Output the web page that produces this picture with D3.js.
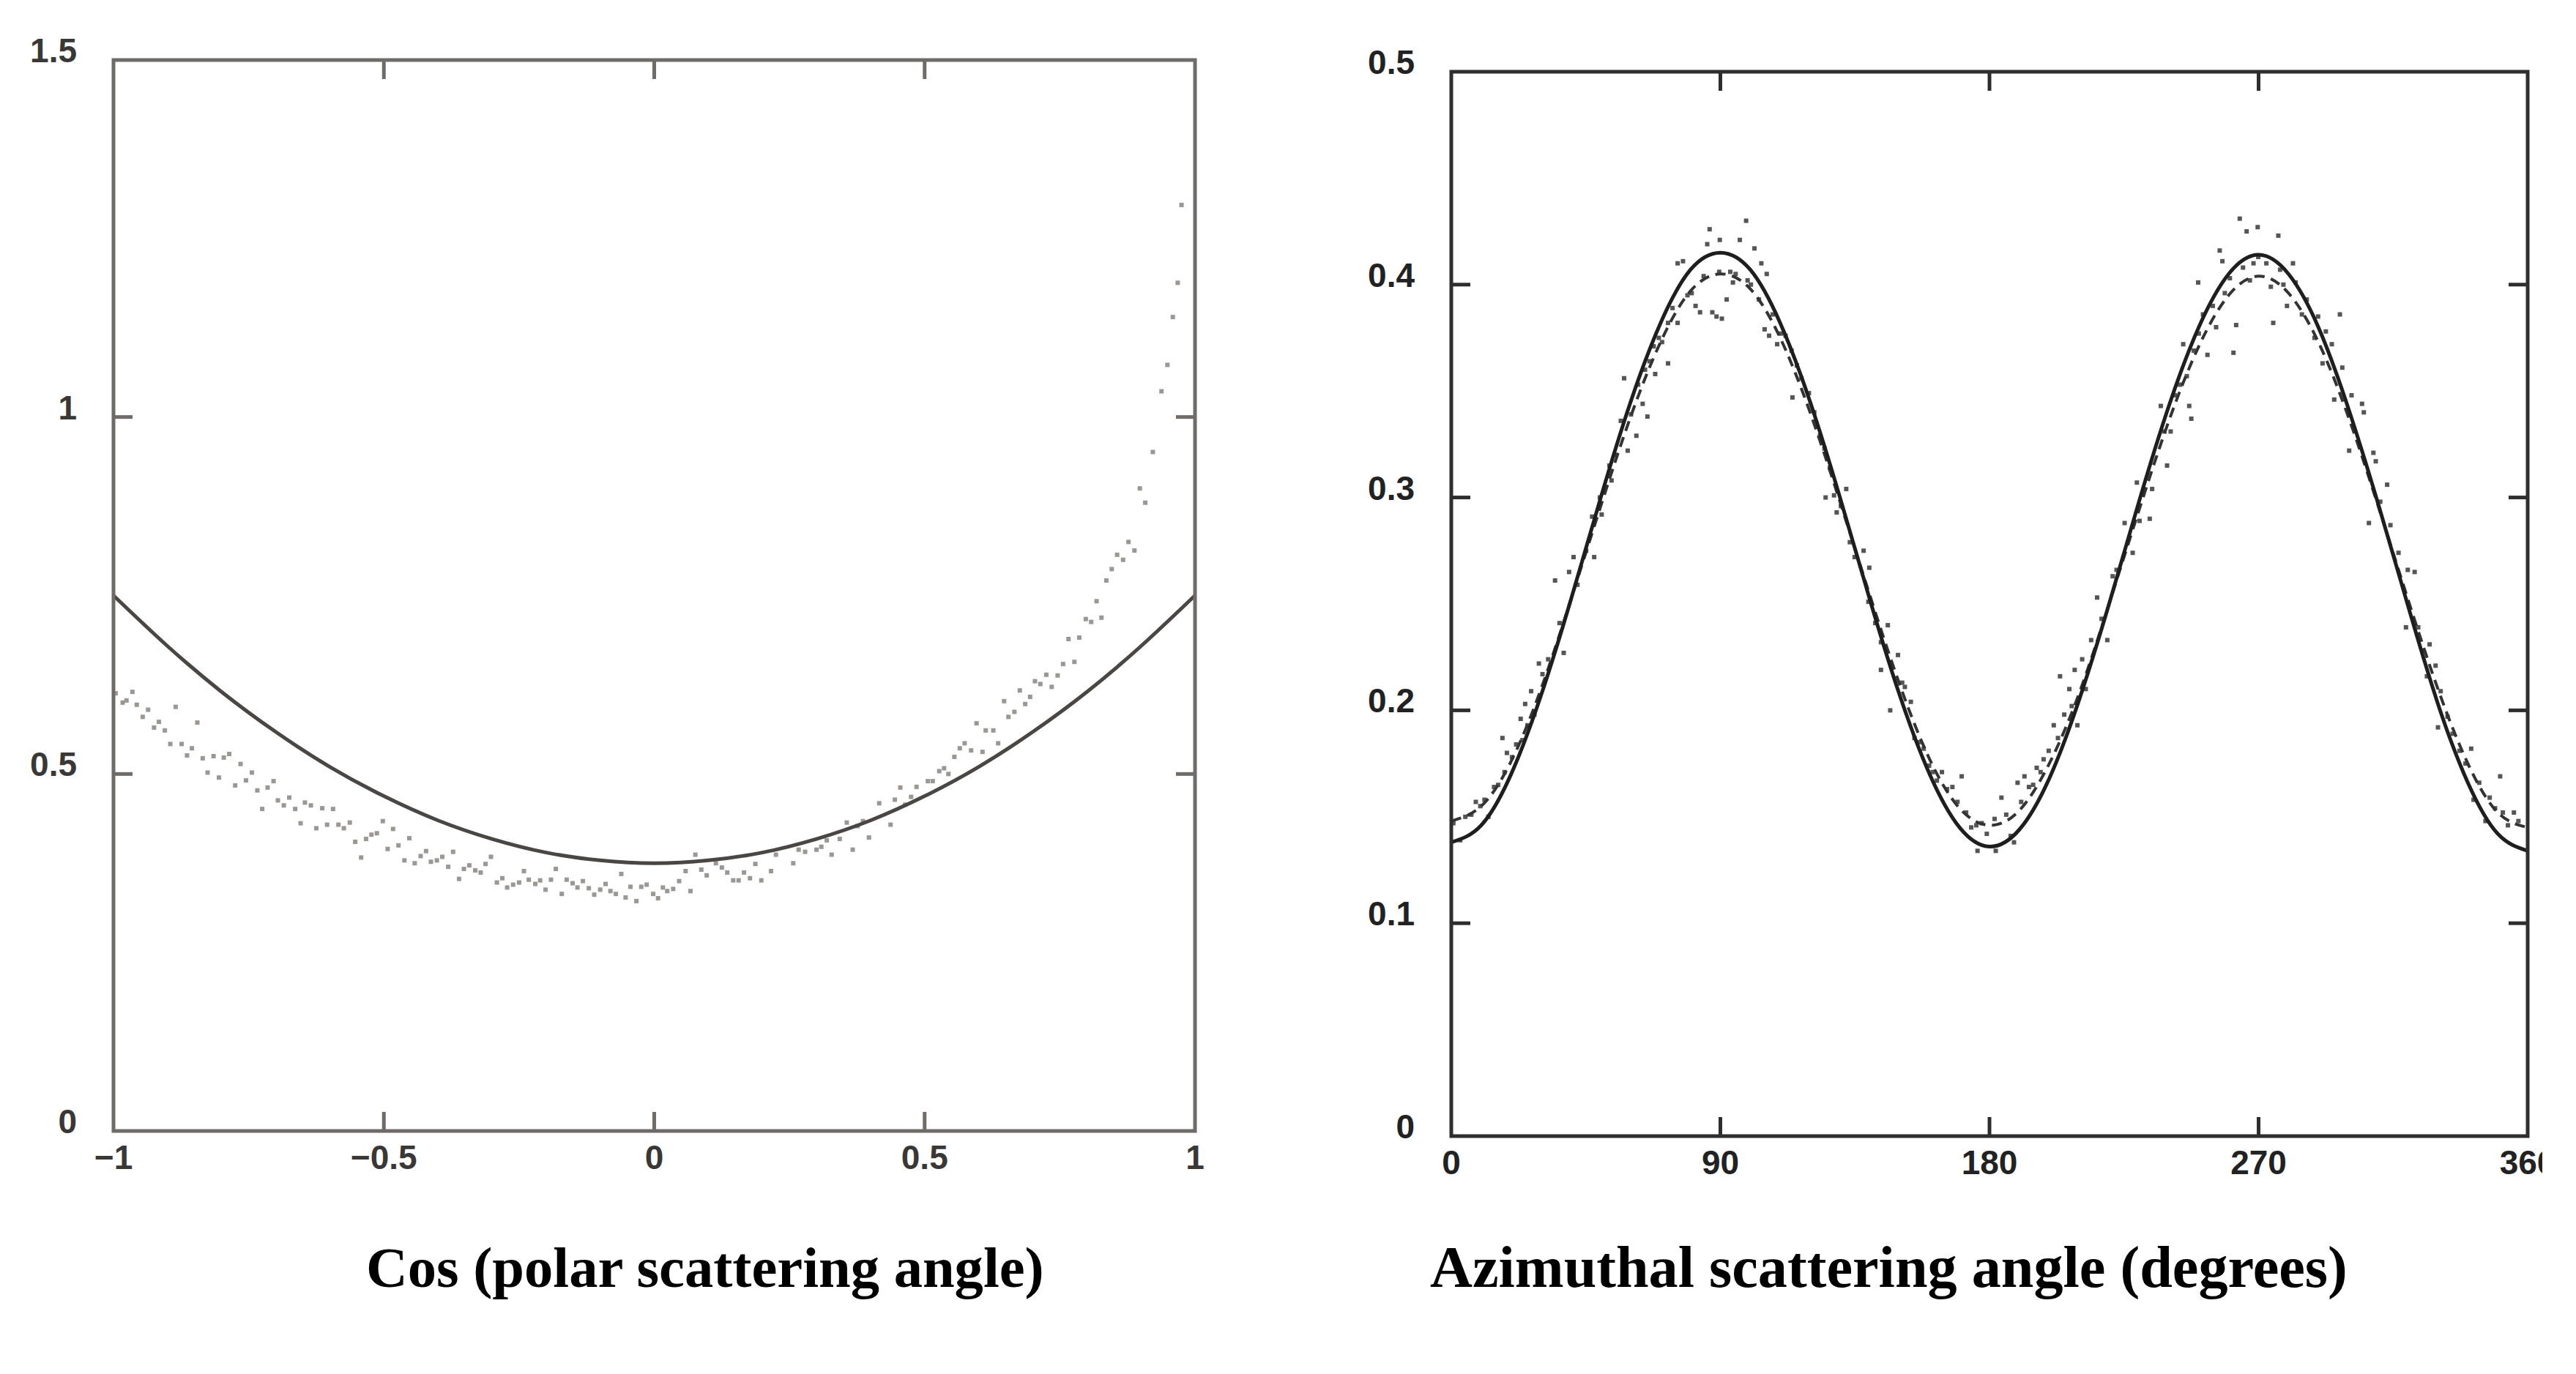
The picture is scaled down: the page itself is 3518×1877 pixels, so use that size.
<!DOCTYPE html>
<html>
<head>
<meta charset="utf-8">
<script src="https://cdn.jsdelivr.net/npm/d3@7"></script>
<style>
  body { margin: 0; background: #fff; }
</style>
</head>
<body>
<div id="chart"></div>
<script>
const W = 3518, H = 1877;

// ---- left panel: cos(polar scattering angle) ----
const polarTicksX = [-1, -0.5, 0, 0.5, 1];
const polarTickLabelsX = ["\u22121", "\u22120.5", "0", "0.5", "1"];
const polarTicksY = [0, 0.5, 1, 1.5];
const polarTickLabelsY = ["0", "0.5", "1", "1.5"];

const polarFitX = [-1, -0.9, -0.8, -0.7, -0.6, -0.5, -0.4, -0.3, -0.2, -0.1, 0,
                   0.1, 0.2, 0.3, 0.4, 0.5, 0.6, 0.7, 0.8, 0.9, 1];
const polarFitY = [0.750, 0.679, 0.615, 0.559, 0.510, 0.469, 0.435, 0.409, 0.390, 0.379, 0.375,
                   0.379, 0.390, 0.409, 0.435, 0.469, 0.510, 0.559, 0.615, 0.679, 0.750];

const polarDots = [
  [-0.996,.613],[-0.983,.600],[-0.976,.603],[-0.965,.615],[-0.957,.597],[-0.946,.580],[-0.936,.590],
  [-0.925,.565],[-0.916,.573],[-0.905,.561],[-0.895,.542],[-0.885,.594],[-0.874,.542],[-0.864,.526],
  [-0.855,.536],[-0.845,.572],[-0.835,.522],[-0.826,.502],[-0.815,.525],[-0.805,.495],[-0.796,.523],
  [-0.786,.528],[-0.775,.484],[-0.765,.514],[-0.755,.491],[-0.744,.502],[-0.734,.477],[-0.725,.451],
  [-0.715,.481],[-0.704,.490],[-0.696,.463],[-0.685,.456],[-0.675,.467],[-0.664,.451],[-0.654,.431],
  [-0.646,.460],[-0.635,.456],[-0.625,.424],[-0.614,.452],[-0.605,.429],[-0.594,.451],[-0.584,.429],
  [-0.574,.424],[-0.563,.432],[-0.553,.405],[-0.542,.383],[-0.533,.409],[-0.523,.415],[-0.513,.417],
  [-0.502,.434],[-0.493,.395],[-0.483,.423],[-0.473,.400],[-0.462,.379],[-0.453,.410],[-0.443,.375],
  [-0.432,.385],[-0.422,.392],[-0.413,.377],[-0.402,.379],[-0.392,.384],[-0.381,.370],[-0.372,.391],
  [-0.361,.353],[-0.352,.367],[-0.342,.372],[-0.331,.365],[-0.321,.362],[-0.312,.374],[-0.302,.384],
  [-0.291,.348],[-0.281,.354],[-0.272,.341],[-0.261,.345],[-0.250,.348],[-0.241,.364],[-0.232,.352],
  [-0.220,.346],[-0.211,.351],[-0.201,.338],[-0.191,.352],[-0.182,.367],[-0.171,.332],[-0.162,.352],
  [-0.151,.347],[-0.142,.341],[-0.132,.350],[-0.121,.340],[-0.111,.331],[-0.100,.338],[-0.090,.346],
  [-0.081,.336],[-0.071,.332],[-0.061,.360],
  [-0.053,.327],[-0.044,.342],[-0.033,.322],[-0.024,.342],[-0.014,.345],[-0.002,.332],[0.007,.326],
  [0.016,.341],[0.024,.336],[0.035,.339],[0.046,.350],[0.058,.364],[0.067,.336],[0.076,.387],
  [0.087,.366],[0.097,.358],[0.114,.375],[0.125,.369],[0.135,.362],[0.146,.351],[0.156,.351],
  [0.166,.362],[0.177,.354],[0.187,.374],[0.198,.351],[0.216,.364],[0.225,.387],[0.257,.375],
  [0.267,.394],[0.279,.391],[0.300,.394],[0.309,.398],[0.319,.407],[0.328,.387],[0.343,.409],
  [0.356,.432],[0.367,.394],[0.376,.427],[0.386,.434],[0.397,.411],[0.416,.459],[0.437,.429],
  [0.445,.464],[0.455,.481],[0.464,.457],[0.475,.468],[0.485,.482],[0.506,.490],[0.515,.490],
  [0.527,.504],[0.536,.508],[0.544,.500],[0.555,.524],[0.565,.536],[0.574,.543],[0.586,.533],
  [0.596,.571],[0.607,.531],[0.613,.561],[0.627,.561],[0.636,.543],[0.647,.602],[0.655,.580],
  [0.666,.587],[0.676,.617],[0.686,.598],[0.695,.608],[0.704,.630],[0.714,.626],[0.725,.639],
  [0.735,.622],[0.746,.638],[0.756,.654],[0.766,.689],[0.777,.657],[0.786,.691],[0.798,.717],
  [0.808,.713],[0.818,.742],[0.827,.719],[0.836,.771],[0.846,.787],[0.856,.807],[0.867,.800],
  [0.877,.825],[0.888,.813],[0.898,.900],[0.908,.880],[0.922,.951],[0.938,1.036],[0.949,1.073],
  [0.959,1.140],[0.968,1.188],[0.975,1.297]
];

// ---- right panel: azimuthal scattering angle ----
const aziTicksX = [0, 90, 180, 270, 360];
const aziTickLabelsX = ["0", "90", "180", "270", "360"];
const aziTicksY = [0, 0.1, 0.2, 0.3, 0.4, 0.5];
const aziTickLabelsY = ["0", "0.1", "0.2", "0.3", "0.4", "0.5"];

const aziFitX = [0, 10, 20, 30, 40, 50, 60, 70, 80, 90, 100, 110, 120, 130, 140, 150, 160, 170, 180,
                 190, 200, 210, 220, 230, 240, 250, 260, 270, 280, 290, 300, 310, 320, 330, 340, 350, 360];
const aziSolid = [0.138, 0.146, 0.170, 0.207, 0.252, 0.300, 0.345, 0.382, 0.407, 0.415,
                  0.407, 0.382, 0.345, 0.300, 0.252, 0.207, 0.170, 0.145, 0.136,
                  0.144, 0.168, 0.205, 0.250, 0.298, 0.343, 0.380, 0.405, 0.414,
                  0.405, 0.380, 0.342, 0.297, 0.249, 0.203, 0.166, 0.142, 0.134];
const aziDashed = [0.148, 0.155, 0.176, 0.210, 0.252, 0.296, 0.338, 0.373, 0.397, 0.405,
                   0.398, 0.375, 0.340, 0.298, 0.254, 0.212, 0.177, 0.154, 0.146,
                   0.153, 0.175, 0.208, 0.250, 0.294, 0.336, 0.371, 0.395, 0.404,
                   0.396, 0.373, 0.338, 0.296, 0.252, 0.210, 0.175, 0.152, 0.145];

const aziDots = [
  [0.7,.147],[3.0,.139],[4.7,.150],[6.7,.151],[8.2,.157],[9.7,.155],[11.1,.158],[12.4,.150],
  [14.3,.164],[15.7,.165],[17.1,.187],[17.8,.171],[18.6,.180],[20.3,.178],[21.7,.184],[23.2,.196],
  [23.8,.186],[24.7,.203],[25.5,.193],[26.7,.209],[27.8,.198],[29.3,.222],[30.5,.217],[32.4,.224],
  [34.7,.261],[36.2,.241],[37.6,.227],[39.4,.265],[40.9,.272],[42.2,.259],[45.1,.275],[47.8,.272],
  [47.1,.291],[49.7,.300],[50.3,.292],[52.9,.315],[53.6,.308],[55.0,.320],[56.7,.336],[57.8,.356],
  [59.0,.322],[60.1,.339],[61.9,.329],[62.5,.353],[64.0,.344],[65.6,.338],[64.8,.360],[66.3,.364],
  [68.2,.358],[67.7,.371],[69.4,.375],[70.5,.373],[72.5,.363],[72.5,.382],[74.0,.389],[75.7,.382],
  [75.7,.410],[77.5,.411],[79.0,.395],[80.4,.396],[81.7,.390],[83.2,.387],[84.4,.404],[85.6,.419],
  [86.4,.426],[87.3,.387],[88.7,.385],[89.6,.406],[89.8,.421],[90.5,.384],[92.1,.393],[93.3,.406],
  [94.2,.401],[95.1,.405],[96.5,.421],[98.6,.430],[99.1,.402],[100.2,.400],[101.4,.417],[102.9,.393],
  [103.7,.410],[104.8,.379],[105.5,.405],[106.3,.376],[107.5,.386],[109.0,.372],[110.2,.377],
  [111.8,.376],[113.8,.369],[114.1,.347],[115.6,.362],[117.1,.356],[119.6,.349],[121.4,.340],
  [123.3,.329],[124.8,.323],[125.2,.300],[126.6,.314],[128.0,.301],[128.9,.293],[130.3,.296],
  [132.1,.304],[133.3,.279],[134.9,.272],[137.9,.275],[139.8,.267],[139.5,.251],[141.8,.241],
  [143.7,.232],[146.0,.240],[143.7,.219],[146.8,.200],[149.4,.226],[150.8,.213],[151.7,.211],
  [153.7,.204],[154.9,.187],[156.4,.185],[158.0,.182],[159.8,.174],[161.0,.171],[162.4,.167],
  [164.1,.171],[165.8,.163],[167.6,.164],[169.3,.157],[170.7,.169],[172.2,.152],[173.9,.145],
  [175.6,.146],[177.4,.147],[176.0,.134],[179.1,.142],
  [181.7,.149],[182.1,.134],[184.0,.159],[185.6,.151],[187.1,.141],[188.2,.138],[189.4,.166],
  [190.6,.157],[191.7,.169],[193.2,.164],[194.6,.165],[195.8,.173],[197.1,.171],[198.1,.177],
  [199.8,.181],[201.5,.193],[202.9,.187],[203.6,.216],[205.0,.198],[206.7,.210],[207.5,.202],
  [208.5,.219],[209.4,.193],[211.0,.224],[212.2,.210],[214.0,.233],[216.0,.253],[217.5,.243],
  [219.4,.233],[221.2,.263],[222.5,.266],[225.2,.288],[227.9,.274],[229.3,.307],[230.2,.289],
  [233.6,.290],[234.4,.304],[237.3,.343],[238.5,.331],[239.4,.315],[240.6,.331],[242.0,.348],
  [243.7,.353],[244.8,.372],[246.0,.357],[246.8,.343],[247.5,.337],[248.3,.369],[249.8,.401],
  [250.0,.377],[251.4,.386],[252.9,.367],[254.7,.390],[255.8,.380],[257.0,.416],[257.9,.411],
  [258.7,.396],[260.4,.403],[261.6,.368],[262.5,.381],[263.7,.431],[264.8,.408],[266.0,.425],
  [267.1,.402],[268.3,.410],[269.7,.427],[269.9,.413],[272.6,.410],[274.1,.399],[274.9,.382],
  [276.6,.423],[277.2,.407],[278.3,.400],[279.5,.390],[281.5,.410],[282.4,.401],[284.5,.386],
  [286.1,.393],[288.7,.375],[289.9,.385],[291.4,.363],[292.5,.378],[294.5,.372],[295.3,.346],
  [297.2,.386],[298.0,.361],[300.3,.322],[301.1,.348],[304.6,.344],[305.2,.340],[306.9,.288],
  [308.4,.321],[309.2,.317],[310.7,.298],[313.0,.306],[314.1,.287],[316.8,.274],[319.3,.239],
  [319.9,.266],[322.2,.265],[323.4,.239],[324.9,.228],[327.2,.231],[326.3,.216],[329.2,.221],
  [330.0,.192],[330.9,.209],[333.2,.197],[334.9,.189],[337.2,.181],[339.2,.175],[341.1,.182],
  [341.9,.158],[343.8,.166],[345.9,.148],[347.3,.159],[349.1,.154],[350.8,.169],[351.7,.152],
  [353.4,.146],[355.4,.152],[356.9,.148]
];

const svg = d3.select("#chart").append("svg")
    .attr("width", W)
    .attr("height", H)
    .style("background", "#fff");

svg.append("defs").append("clipPath")
    .attr("id", "pageClip")
    .append("rect")
    .attr("x", 0).attr("y", 0)
    .attr("width", 3472).attr("height", H);

function drawPanel(p) {
    let x = d3.scaleLinear().domain(p.xDomain).range([p.left, p.right]);
    let y = d3.scaleLinear().domain(p.yDomain).range([p.bottom, p.top]);
    let g = svg.append("g");
    let tickLen = 26;

    // dots first, lines over them
    g.selectAll("rect.dot")
        .data(p.dots)
        .enter().append("rect")
        .attr("class", "dot")
        .attr("x", d => x(d[0]) - p.dotSize / 2)
        .attr("y", d => y(d[1]) - p.dotSize / 2)
        .attr("width", p.dotSize)
        .attr("height", p.dotSize)
        .attr("fill", p.dotColor);

    let line = d3.line()
        .x(d => x(d[0]))
        .y(d => y(d[1]))
        .curve(d3.curveNatural);

    p.curves.forEach(c => {
        g.append("path")
            .datum(p.fitX.map((v, i) => [v, c.values[i]]))
            .attr("d", line)
            .attr("fill", "none")
            .attr("stroke", c.color)
            .attr("stroke-width", c.width)
            .attr("stroke-dasharray", c.dash || null);
    });

    // frame
    g.append("rect")
        .attr("x", p.left).attr("y", p.top)
        .attr("width", p.right - p.left)
        .attr("height", p.bottom - p.top)
        .attr("fill", "none")
        .attr("stroke", p.frameColor)
        .attr("stroke-width", 5);

    // inward ticks on all four sides
    p.ticksX.slice(1, -1).forEach(t => {
        g.append("line")
            .attr("x1", x(t)).attr("x2", x(t))
            .attr("y1", p.bottom).attr("y2", p.bottom - tickLen)
            .attr("stroke", p.frameColor).attr("stroke-width", 5);
        g.append("line")
            .attr("x1", x(t)).attr("x2", x(t))
            .attr("y1", p.top).attr("y2", p.top + tickLen)
            .attr("stroke", p.frameColor).attr("stroke-width", 5);
    });
    p.ticksY.slice(1, -1).forEach(t => {
        g.append("line")
            .attr("x1", p.left).attr("x2", p.left + tickLen)
            .attr("y1", y(t)).attr("y2", y(t))
            .attr("stroke", p.frameColor).attr("stroke-width", 5);
        g.append("line")
            .attr("x1", p.right).attr("x2", p.right - tickLen)
            .attr("y1", y(t)).attr("y2", y(t))
            .attr("stroke", p.frameColor).attr("stroke-width", 5);
    });

    // tick labels
    let labels = g.append("g")
        .attr("clip-path", "url(#pageClip)")
        .style("font-family", "'Liberation Sans', Arial, sans-serif")
        .style("font-weight", "bold")
        .style("font-size", "46px")
        .attr("fill", p.labelColor);

    p.ticksY.forEach((t, i) => {
        labels.append("text")
            .attr("x", p.left - 50)
            .attr("y", y(t) - 13)
            .attr("text-anchor", "end")
            .attr("dominant-baseline", "central")
            .text(p.labelsY[i]);
    });
    p.ticksX.forEach((t, i) => {
        labels.append("text")
            .attr("x", x(t))
            .attr("y", p.bottom + 36)
            .attr("text-anchor", "middle")
            .attr("dominant-baseline", "central")
            .text(p.labelsX[i]);
    });

    // axis title, sized to the width it takes in the figure
    let title = svg.append("text")
        .attr("x", p.titleX)
        .attr("y", 1758)
        .style("font-family", "'Liberation Serif', 'Times New Roman', serif")
        .style("font-weight", "bold")
        .style("font-size", "100px")
        .attr("fill", "#000")
        .text(p.title);
    let len = title.node().getComputedTextLength();
    title.style("font-size", (100 * p.titleWidth / len) + "px");
}

drawPanel({
    xDomain: [-1, 1], yDomain: [0, 1.5],
    left: 155, right: 1632, top: 82, bottom: 1545,
    ticksX: polarTicksX, labelsX: polarTickLabelsX,
    ticksY: polarTicksY, labelsY: polarTickLabelsY,
    fitX: polarFitX,
    curves: [{values: polarFitY, color: "#4a4644", width: 5}],
    dots: polarDots, dotSize: 6, dotColor: "#9a9794",
    frameColor: "#6f6b68", labelColor: "#3a3836",
    title: "Cos (polar scattering angle)", titleX: 500, titleWidth: 926
});

drawPanel({
    xDomain: [0, 360], yDomain: [0, 0.5],
    left: 1982, right: 3452, top: 98, bottom: 1552,
    ticksX: aziTicksX, labelsX: aziTickLabelsX,
    ticksY: aziTicksY, labelsY: aziTickLabelsY,
    fitX: aziFitX,
    curves: [
        {values: aziDashed, color: "#333", width: 4, dash: "14,9"},
        {values: aziSolid, color: "#1e1e1e", width: 5}
    ],
    dots: aziDots, dotSize: 6, dotColor: "#555",
    frameColor: "#2e2e2e", labelColor: "#222",
    title: "Azimuthal scattering angle (degrees)", titleX: 1953, titleWidth: 1253
});
</script>
</body>
</html>
